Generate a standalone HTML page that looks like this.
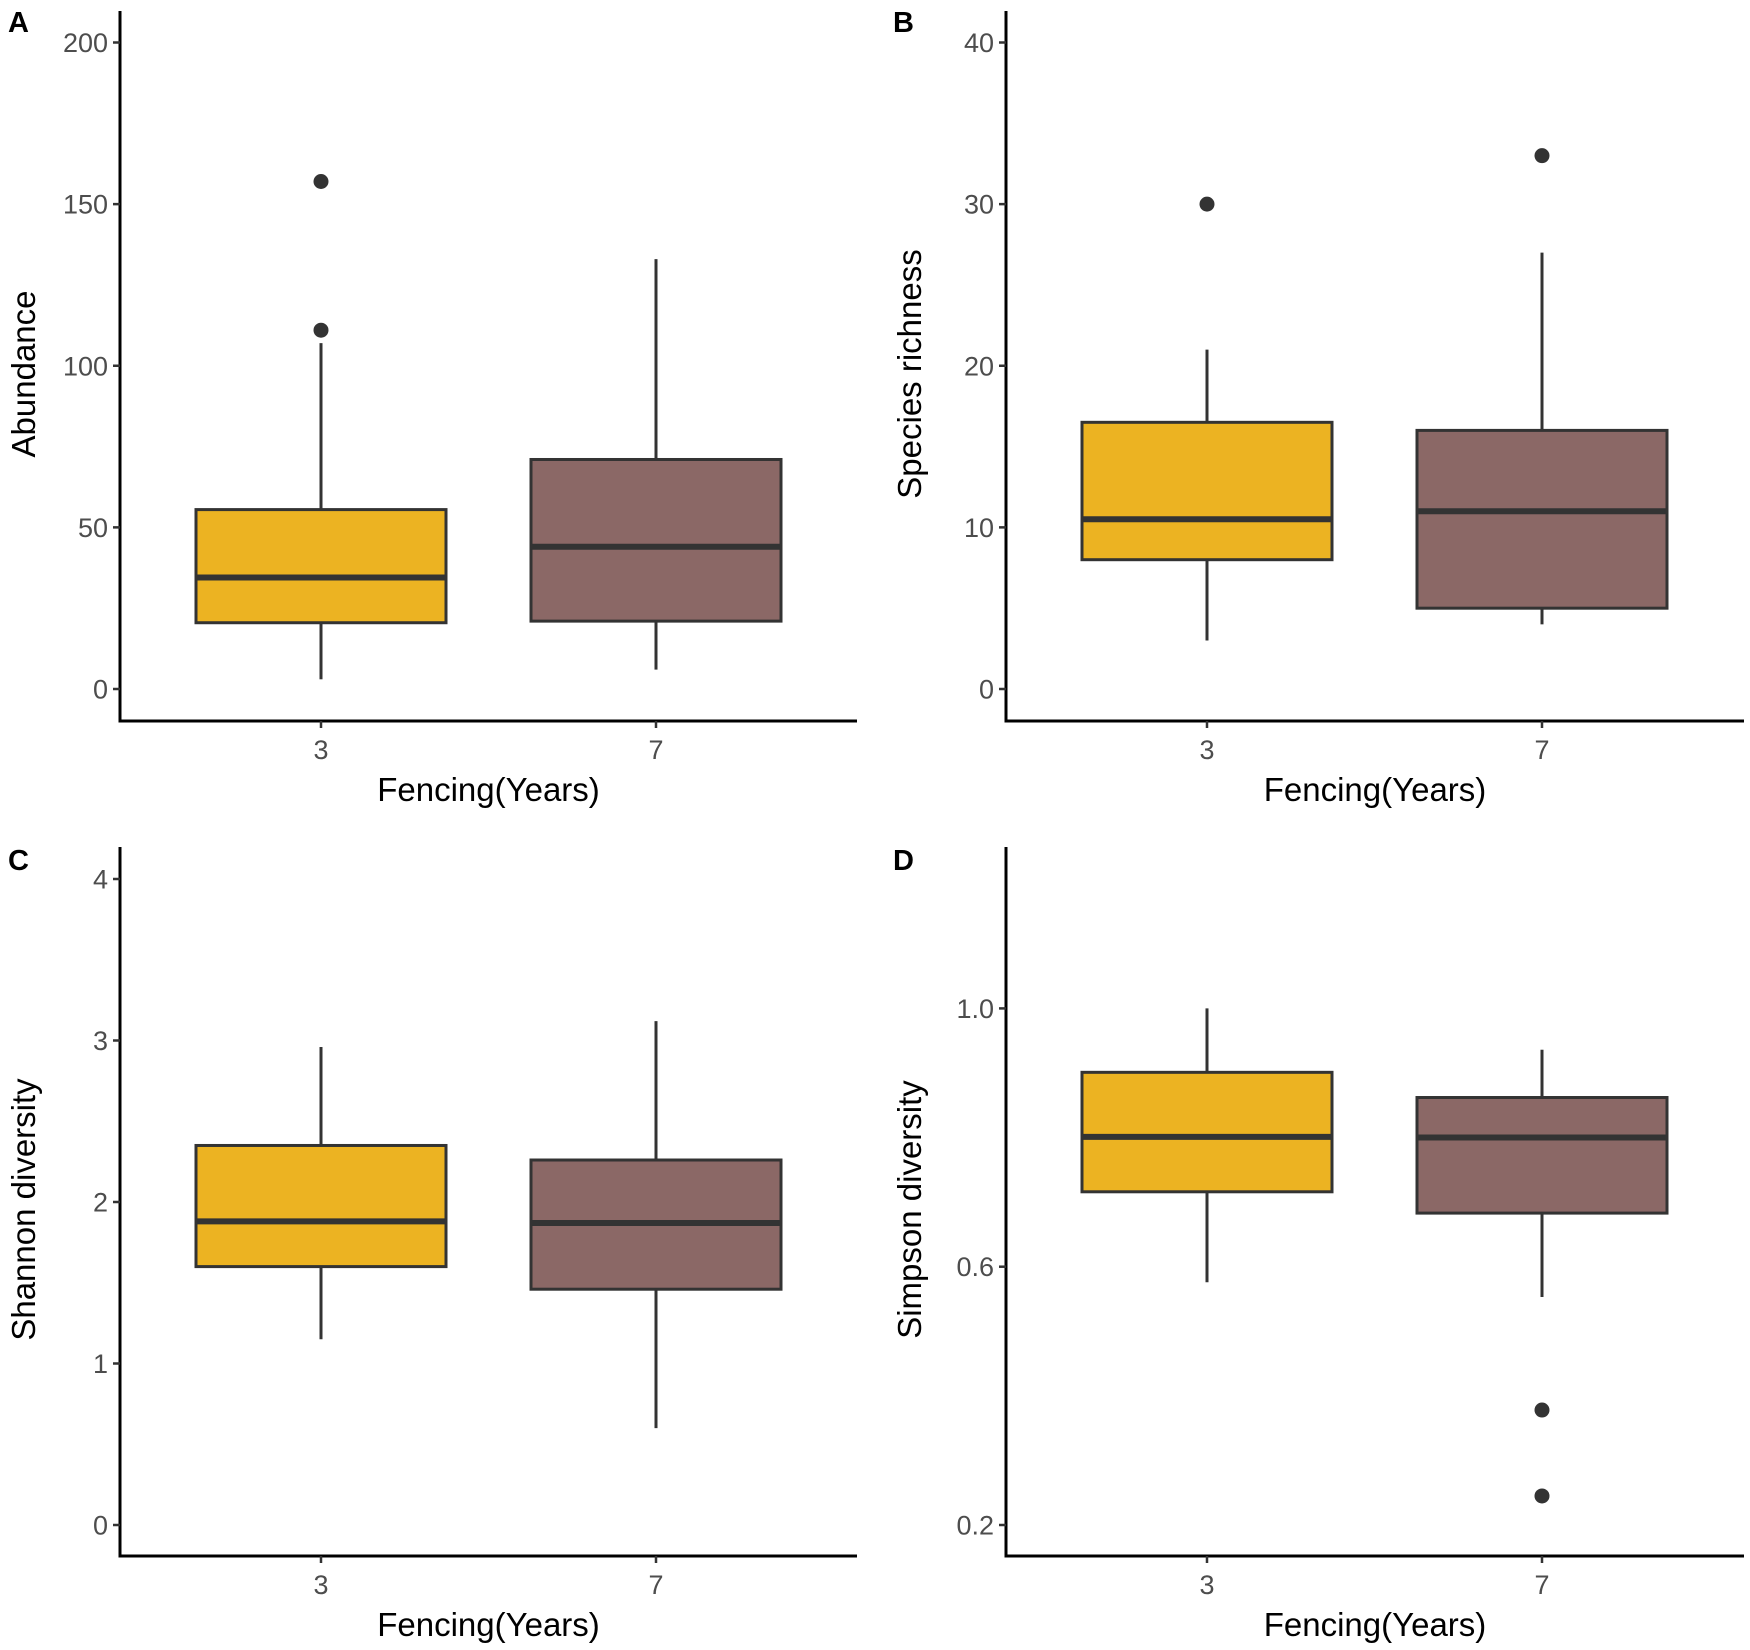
<!DOCTYPE html>
<html><head><meta charset="utf-8"><style>body{margin:0;background:#fff}svg{display:block;font-family:"Liberation Sans",Arial,sans-serif}</style></head>
<body>
<svg id="chart" width="1750" height="1650" viewBox="0 0 1750 1650" xmlns="http://www.w3.org/2000/svg"></svg>
<script>
const categories = ["3", "7"];
const panelLetters = ["A", "B", "C", "D"];
const yTitles = ["Abundance", "Species richness", "Shannon diversity", "Simpson diversity"];
const yTicksA = [0, 50, 100, 150, 200];
const yTicksB = [0, 10, 20, 30, 40];
const yTicksC = [0, 1, 2, 3, 4];
const yTicksD = [0.2, 0.6, 1.0];
// [whiskerLow, Q1, median, Q3, whiskerHigh] per category
const statsA = [[3, 20.5, 34.5, 55.5, 107], [6, 21, 44, 71, 133]];
const statsB = [[3, 8, 10.5, 16.5, 21], [4, 5, 11, 16, 27]];
const statsC = [[1.15, 1.6, 1.88, 2.35, 2.96], [0.6, 1.46, 1.87, 2.26, 3.12]];
const statsD = [[0.576, 0.716, 0.801, 0.901, 1.0], [0.553, 0.683, 0.80, 0.862, 0.936]];
const outliersA = [[157, 111], []];
const outliersB = [[30], [33]];
const outliersC = [[], []];
const outliersD = [[], [0.378, 0.245]];
const colors = ["#ECB322", "#8B6866"];

const NS = "http://www.w3.org/2000/svg";
const svg = document.getElementById("chart");
function mk(tag, attrs, parent, text) {
  const e = document.createElementNS(NS, tag);
  for (const k in attrs) e.setAttribute(k, attrs[k]);
  if (text !== undefined) e.textContent = text;
  parent.appendChild(e);
  return e;
}
const layouts = [
  {ax:120, right:857, top:11, bottom:721, v0:0, p0:689, v1:200, p1:42.5, lx:8, ly:32, tx:24, ticks:yTicksA, stats:statsA, out:outliersA, dec:0},
  {ax:1006, right:1744, top:11, bottom:721, v0:0, p0:689, v1:40, p1:42.5, lx:893, ly:32, tx:910, ticks:yTicksB, stats:statsB, out:outliersB, dec:0},
  {ax:120, right:857, top:847, bottom:1556, v0:0, p0:1525, v1:4, p1:879, lx:8, ly:870, tx:24, ticks:yTicksC, stats:statsC, out:outliersC, dec:0},
  {ax:1006, right:1744, top:847, bottom:1556, v0:0.2, p0:1525, v1:1.0, p1:1008.4, lx:893, ly:870, tx:910, ticks:yTicksD, stats:statsD, out:outliersD, dec:1}
];
layouts.forEach((L, i) => {
  const g = mk("g", {}, svg);
  
  
  const y = v => L.p0 + (v - L.v0) * (L.p1 - L.p0) / (L.v1 - L.v0);
  const x = c => L.ax + 201 + c * 335;
  const lbl = mk("text", {x:L.lx, y:L.ly, "font-size":29, "font-weight":"bold", fill:"#000"}, g, panelLetters[i]);
  
  
  categories.forEach((c, ci) => {
    const s = L.stats[ci], cx = x(ci), hw = 125;
    const bg = mk("g", {}, g);
    
    
    mk("line", {x1:cx, x2:cx, y1:y(s[0]), y2:y(s[1]), stroke:"#333", "stroke-width":3}, bg);
    mk("line", {x1:cx, x2:cx, y1:y(s[3]), y2:y(s[4]), stroke:"#333", "stroke-width":3}, bg);
    mk("rect", {x:cx-hw, y:y(s[3]), width:2*hw, height:y(s[1])-y(s[3]), fill:colors[ci], stroke:"#333", "stroke-width":3}, bg);
    mk("line", {x1:cx-hw, x2:cx+hw, y1:y(s[2]), y2:y(s[2]), stroke:"#333", "stroke-width":6}, bg);
    L.out[ci].forEach(o => {
      const pt = mk("circle", {cx:cx, cy:y(o), r:7.5, fill:"#333"}, bg);
      
      
    });
  });
  const ya = mk("line", {x1:L.ax, x2:L.ax, y1:L.top, y2:L.bottom+1.5, stroke:"#000", "stroke-width":3}, g);
  
  
  const xa = mk("line", {x1:L.ax-1.5, x2:L.right, y1:L.bottom, y2:L.bottom, stroke:"#000", "stroke-width":3}, g);
  
  
  L.ticks.forEach(t => {
    mk("line", {x1:L.ax-7, x2:L.ax, y1:y(t), y2:y(t), stroke:"#333", "stroke-width":2.5}, g);
    const tl = mk("text", {x:L.ax-12, y:y(t)+9.5, "font-size":27, fill:"#4d4d4d", "text-anchor":"end"}, g, t.toFixed(L.dec));
    
    
  });
  categories.forEach((c, ci) => {
    mk("line", {x1:x(ci), x2:x(ci), y1:L.bottom, y2:L.bottom+7, stroke:"#333", "stroke-width":2.5}, g);
    const tl = mk("text", {x:x(ci), y:L.bottom+38, "font-size":27, fill:"#4d4d4d", "text-anchor":"middle"}, g, c);
    
    
  });
  const xt = mk("text", {x:(L.ax+L.right)/2, y:L.bottom+80, "font-size":33, fill:"#000", "text-anchor":"middle"}, g, "Fencing(Years)");
  
  
  const cy = (L.top + L.bottom) / 2 + 8;
  const yt = mk("text", {x:L.tx+11, y:cy, "font-size":33, fill:"#000", "text-anchor":"middle", transform:`rotate(-90 ${L.tx+11} ${cy})`}, g, yTitles[i]);
  
  
});
</script>
</body></html>
